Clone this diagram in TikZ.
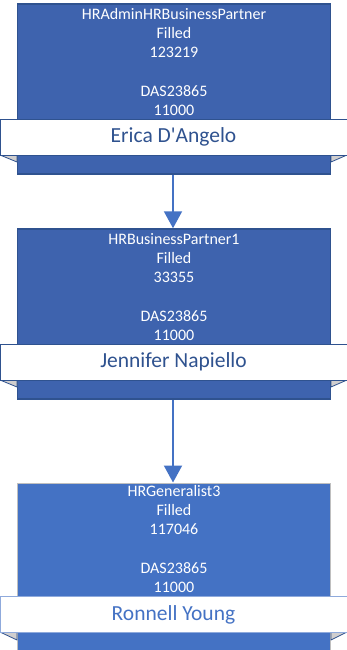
\documentclass[tikz,border=0pt]{standalone}
\usepackage{fontspec}
\setmainfont{Carlito}
\usetikzlibrary{arrows.meta}
\definecolor{darkfill}{RGB}{62,99,174}
\definecolor{darkline}{RGB}{47,82,143}
\definecolor{accent}{RGB}{68,114,196}
\definecolor{lightline}{RGB}{191,191,191}
\definecolor{foldgray}{RGB}{208,206,206}
\definecolor{bannerline}{RGB}{143,170,220}
\tikzset{
  posbox/.style={rectangle, draw=darkline, line width=1.5pt, fill=darkfill, minimum width=313pt, inner sep=0pt},
  posbox3/.style={rectangle, draw=lightline, line width=1pt, fill=accent, minimum width=313pt, inner sep=0pt},
  postext/.style={text=white, align=center, inner sep=0pt, font=\fontsize{16}{19.3}\selectfont},
  banner/.style={rectangle, draw=darkline, line width=0.8pt, fill=white, minimum width=347pt, minimum height=36pt, inner sep=0pt, text=darkline, font=\fontsize{21.5}{24}\selectfont},
  banner3/.style={banner, draw=bannerline, text=accent},
  fold/.style={fill=foldgray, draw=darkline, line width=0.8pt, line join=round},
  link/.style={draw=accent, line width=2pt, -{Triangle[width=18pt,length=17pt]}}
}
\begin{document}
\begin{tikzpicture}[x=1pt,y=-1pt]
\useasboundingbox (0,0) rectangle (347,650);
\clip (0,0) rectangle (347,650);
% box 1
\node[posbox, minimum height=170pt] (b1) at (174,89) {};
\node[postext] (t1) at (174,62) {HRAdminHRBusinessPartner\\Filled\\123219\\[19.3pt]DAS23865\\11000};
\draw[fold] (0,155) -- (17,155) -- (17,162) -- cycle;
\draw[fold] (347,155) -- (331,155) -- (331,162) -- cycle;
\node[banner] (n1) at (173.5,137) {Erica D\textquotesingle Angelo};
% box 2
\node[posbox, minimum height=170pt] (b2) at (174,314) {};
\node[postext] (t2) at (174,287) {HRBusinessPartner1\\Filled\\33355\\[19.3pt]DAS23865\\11000};
\draw[fold] (0,380) -- (17,380) -- (17,387) -- cycle;
\draw[fold] (347,380) -- (331,380) -- (331,387) -- cycle;
\node[banner] (n2) at (173.5,362) {Jennifer Napiello};
% box 3
\node[posbox3, minimum height=190pt] (b3) at (174,578) {};
\node[postext] (t3) at (174,539) {HRGeneralist3\\Filled\\117046\\[19.3pt]DAS23865\\11000};
\draw[fold] (0,632) -- (17,632) -- (17,640) -- cycle;
\draw[fold] (347,632) -- (331,632) -- (331,640) -- cycle;
\node[banner3] (n3) at (173.5,614.5) {Ronnell Young};
% connectors
\draw[link] ([xshift=-1pt]b1.south) -- ([xshift=-1pt]b2.north);
\draw[link] ([xshift=-1pt]b2.south) -- ([xshift=-1pt]b3.north);
\end{tikzpicture}
\end{document}
